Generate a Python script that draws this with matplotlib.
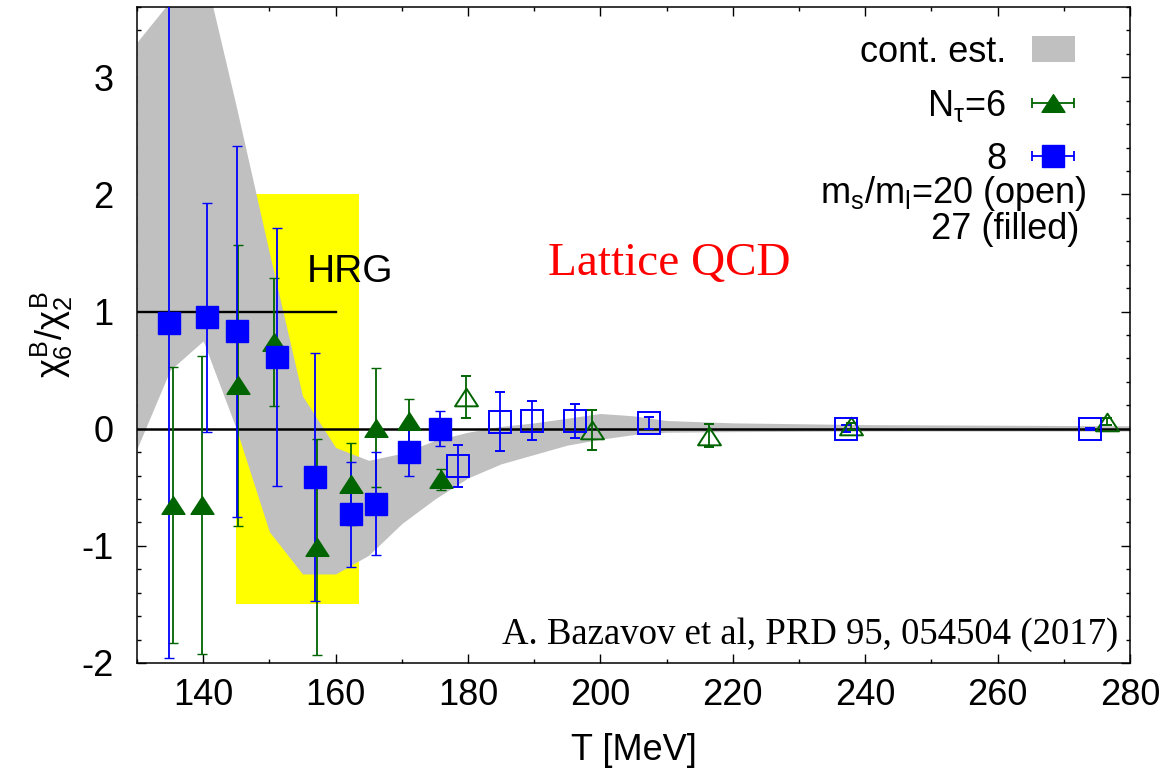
import numpy as np
import matplotlib.pyplot as plt
from matplotlib.patches import Patch
from matplotlib.path import Path
from matplotlib.legend_handler import HandlerErrorbar

################ Data ################
# continuum estimate band
band_T = [130, 135, 140, 145, 150, 155, 160, 165, 170, 175, 180, 185, 190, 195,
          200, 205, 210, 220, 240, 260, 280]
band_hi = [3.3, 3.65, 3.95, 2.75, 1.5, 0.28, -0.16, -0.27, -0.21, -0.1, -0.03, 0.02,
           0.05, 0.09, 0.13, 0.11, 0.07, 0.05, 0.035, 0.03, 0.025]
band_lo = [-0.17, 0.5, 0.75, 0.0, -0.88, -1.24, -1.24, -1.08, -0.81, -0.6, -0.42, -0.3,
           -0.22, -0.14, -0.09, -0.05, -0.03, -0.025, -0.02, -0.02, -0.02]

# N_tau = 6, ms/ml = 27 (filled triangles)
T6_f = [135.4, 139.8, 145.2, 150.7, 157.2, 162.4, 166.1, 171.1, 175.9]
r6_f = [-0.65, -0.65, 0.37, 0.74, -1.01, -0.47, 0.01, 0.07, -0.43]
e6_f = [1.18, 1.27, 1.20, 0.55, 0.92, 0.35, 0.51, 0.18, 0.09]

# N_tau = 8, ms/ml = 27 (filled squares)
T8_f = [134.8, 140.6, 145.1, 151.1, 156.9, 162.4, 166.1, 171.1, 175.8]
r8_f = [0.90, 0.95, 0.83, 0.61, -0.41, -0.73, -0.64, -0.20, 0.0]
e8_f = [2.86, 0.98, 1.58, 1.10, 1.06, 0.45, 0.44, 0.20, 0.15]

# N_tau = 6, ms/ml = 20 (open triangles)
T6_o = [179.7, 198.8, 216.4, 237.9, 276.5]
r6_o = [0.27, -0.01, -0.06, 0.02, 0.06]
e6_o = [0.18, 0.17, 0.10, 0.03, 0.03]

# N_tau = 8, ms/ml = 20 (open squares)
T8_o = [178.5, 184.9, 189.7, 196.2, 207.4, 237.1, 274.0]
r8_o = [-0.32, 0.06, 0.07, 0.07, 0.05, 0.0, -0.005]
e8_o = [0.18, 0.25, 0.17, 0.145, 0.05, 0.03, 0.01]

# HRG value and band of the crossover region
hrg_T = [130, 160]
hrg_val = [1, 1]
yellow_T = [145, 163.5]
yellow_y = [-1.5, 2.0]

################ Style ################
plt.rcParams['font.family'] = ['Liberation Sans', 'DejaVu Sans']
plt.rcParams['mathtext.fontset'] = 'custom'
plt.rcParams['mathtext.rm'] = 'Liberation Sans'
plt.rcParams['mathtext.it'] = 'Liberation Sans'
plt.rcParams['mathtext.bf'] = 'Liberation Sans:bold'

green = '#006400'
blue = '#0000ff'
grey = '#c0c0c0'
fs = 26

# gnuplot-like flattened triangle, closed so the open version has all three sides
tri = Path([(0, 0.77), (-1, -0.77), (1, -0.77), (0, 0.77)],
           [Path.MOVETO, Path.LINETO, Path.LINETO, Path.CLOSEPOLY])

fig = plt.figure(figsize=(11.72, 7.84), dpi=100)
ax = fig.add_axes([137 / 1172, 1 - 663 / 784, (1130 - 137) / 1172, (663 - 7) / 784])

ax.fill_between(yellow_T, yellow_y[0], yellow_y[1], color='#ffff00', lw=0, zorder=1)
ax.fill_between(band_T, band_lo, band_hi, color=grey, lw=0, zorder=2)
ax.plot(hrg_T, hrg_val, color='black', lw=1.7, zorder=3)
ax.axhline(0, color='black', lw=1.8, zorder=3)

eb = dict(capsize=3.8, elinewidth=1.3, capthick=1.3, linestyle='none', zorder=4)
ax.errorbar(T6_f, r6_f, yerr=e6_f, marker=tri, ms=16.5, color=green, mew=1, **eb)
ax.errorbar(T8_f, r8_f, yerr=e8_f, marker='s', ms=15.5, color=blue, mew=1, **eb)
ax.errorbar(T6_o, r6_o, yerr=e6_o, marker=tri, ms=16.5, color=green, mfc='none', mew=1.4, **eb)
ax.errorbar(T8_o, r8_o, yerr=e8_o, marker='s', ms=15.5, color=blue, mfc='none', mew=1.4, **eb)

ax.set_xlim(130, 280)
ax.set_ylim(-2, 3.6)
ax.set_xticks(np.arange(140, 281, 20))
ax.set_xticks(np.arange(130, 281, 10), minor=True)
ax.set_yticks(np.arange(-2, 4, 1))
ax.set_yticks(np.arange(-2, 3.61, 0.2), minor=True)
ax.set_yticklabels(['-2', '-1', '0', '1', '2', '3'])
ax.tick_params(which='both', direction='in', top=True, right=True, width=1, labelsize=fs)
ax.tick_params(which='major', length=6.5)
ax.tick_params(which='minor', length=3)
ax.tick_params(axis='x', pad=11)
ax.tick_params(axis='y', pad=17)
for s in ax.spines.values():
    s.set_linewidth(1.1)

ax.set_xlabel('T [MeV]', fontsize=fs, labelpad=14)
ax.set_ylabel(r'$\chi_6^B/\chi_2^B$', fontsize=fs, labelpad=4)

# legend
h_band = Patch(facecolor=grey, edgecolor='none')
h6 = ax.errorbar([np.nan], [np.nan], xerr=[1], marker=tri, ms=16.5, color=green,
                 capsize=3.8, elinewidth=1.3, capthick=1.3, linestyle='none')
h8 = ax.errorbar([np.nan], [np.nan], xerr=[1], marker='s', ms=15.5, color=blue,
                 capsize=3.8, elinewidth=1.3, capthick=1.3, linestyle='none')
ax.legend([h_band, h6, h8], ['cont. est.', r'N$_\tau$=6', '8'],
          loc='upper right', bbox_to_anchor=(0.9446, 0.958), markerfirst=False,
          frameon=False, fontsize=fs, borderpad=0, borderaxespad=0,
          handlelength=1.2, handletextpad=0.7, labelspacing=0.5,
          handler_map={type(h6): HandlerErrorbar(xerr_size=0.58)})
ax.text(273.5, 1.93, r'm$_s$/m$_l$=20 (open)', fontsize=fs, ha='right', va='baseline')
ax.text(272.4, 1.62, '27 (filled)', fontsize=fs, ha='right', va='baseline')

ax.text(155.6, 1.25, 'HRG', fontsize=fs + 2, ha='left', va='baseline', zorder=5)
ax.text(192.1, 1.31, 'Lattice QCD', fontsize=34, color='red', family='Liberation Serif',
        ha='left', va='baseline')
ax.text(278.2, -1.835, 'A. Bazavov et al, PRD 95, 054504 (2017)', fontsize=26.5,
        family='Liberation Serif', ha='right', va='baseline')

fig.savefig('out.png', dpi=100)
